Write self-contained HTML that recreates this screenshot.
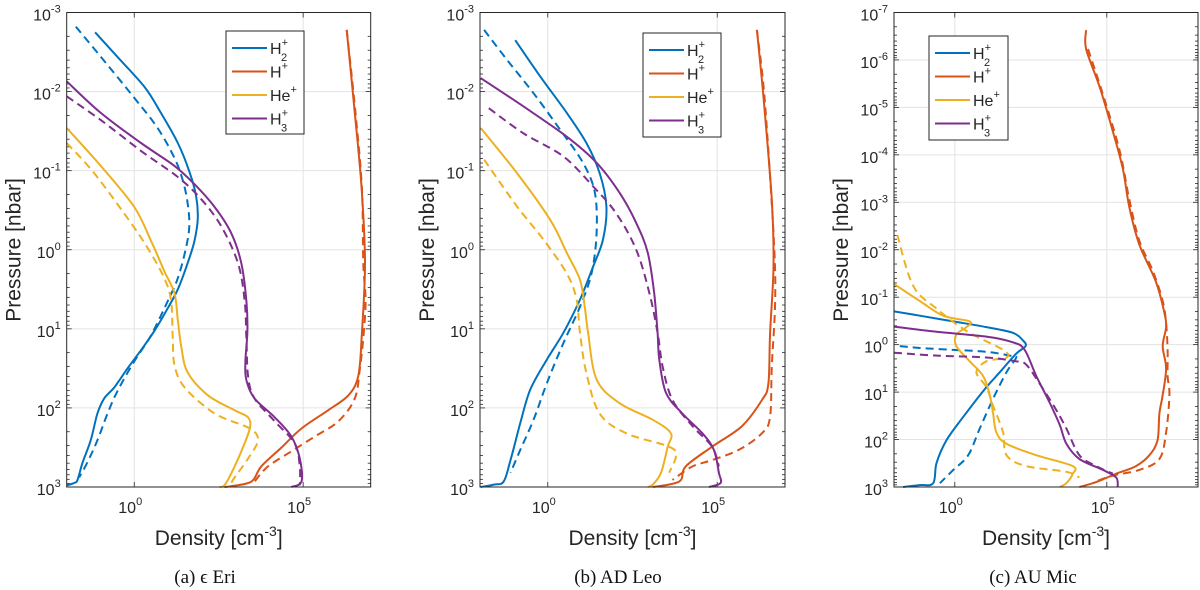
<!DOCTYPE html>
<html><head><meta charset="utf-8">
<style>
html,body{margin:0;padding:0;background:#fff;}
svg{display:block;font-family:"Liberation Sans",sans-serif;}
.cap{font-family:"Liberation Serif",serif;}
</style></head>
<body>
<svg id="fig" width="1200" height="590" viewBox="0 0 1200 590"></svg>
<script>
// Data: [log10(density), log10(pressure)]
const eriH2Solid=[[-1.16,-2.75],[-0.5,-2.44],[0.3,-2.06],[0.79,-1.73],[1.29,-1.35],[1.63,-0.99],[1.83,-0.68],[1.88,-0.4],[1.78,-0.11],[1.58,0.17],[1.29,0.5],[0.99,0.74],[0.59,1.03],[0.2,1.27],[-0.2,1.5],[-0.59,1.74],[-0.89,1.88],[-1.09,2.07],[-1.29,2.41],[-1.53,2.69],[-1.68,2.91],[-1.78,2.95],[-2,2.98]];
const eriH2Dash=[[-1.73,-2.82],[-0.99,-2.44],[0,-1.92],[0.69,-1.54],[1.19,-1.16],[1.44,-0.87],[1.58,-0.59],[1.63,-0.3],[1.53,-0.02],[1.29,0.36],[0.99,0.65],[0.5,1.08],[0,1.41],[-0.5,1.79],[-0.79,2.07],[-1.09,2.41],[-1.39,2.69],[-1.63,2.88]];
const eriH3Solid=[[-2,-2.13],[-0.99,-1.73],[0.2,-1.35],[1.19,-1.06],[1.78,-0.83],[2.38,-0.54],[2.87,-0.21],[3.17,0.17],[3.32,0.65],[3.35,1.03],[3.29,1.41],[3.32,1.65],[3.56,1.88],[4.16,2.12],[4.65,2.36],[4.9,2.64],[4.95,2.93],[4.65,3]];
const eriH3Dash=[[-2,-1.94],[-0.99,-1.64],[0.2,-1.25],[1.29,-0.92],[1.98,-0.64],[2.57,-0.3],[3.07,0.17],[3.27,0.65],[3.32,1.12],[3.37,1.6],[3.56,1.88],[4.16,2.17],[4.75,2.45],[4.9,2.74],[4.9,2.98]];
const eriHeSolid=[[-2,-1.54],[-0.99,-1.06],[0,-0.54],[0.5,-0.11],[0.89,0.27],[1.19,0.55],[1.29,0.89],[1.39,1.22],[1.58,1.55],[2.18,1.84],[2.97,2.03],[3.37,2.12],[3.42,2.26],[3.17,2.55],[2.87,2.83],[2.67,2.98],[2.52,3]];
const eriHeDash=[[-2,-1.35],[-1.19,-0.97],[-0.2,-0.4],[0.4,-0.02],[0.89,0.36],[1.09,0.65],[1.14,1.12],[1.19,1.46],[1.49,1.74],[2.38,2.07],[3.42,2.26],[3.66,2.41],[3.37,2.64],[2.97,2.88],[2.87,2.95]];
const eriHSolid=[[6.29,-2.78],[6.53,-1.73],[6.73,-0.78],[6.83,0.17],[6.73,1.12],[6.63,1.6],[6.34,1.84],[5.74,2.03],[4.95,2.26],[4.36,2.5],[3.76,2.74],[3.47,2.93],[2.87,2.99],[2.67,3]];
const eriHDash=[[6.29,-2.78],[6.55,-1.73],[6.74,-0.78],[6.78,0.17],[6.85,0.65],[6.78,1.12],[6.68,1.5],[6.53,1.88],[6.04,2.17],[5.35,2.36],[4.65,2.55],[3.96,2.74],[3.56,2.93]];

const leoH2Solid=[[-0.96,-2.65],[-0.22,-2.19],[0.56,-1.73],[1.14,-1.35],[1.53,-0.97],[1.73,-0.55],[1.63,-0.13],[1.34,0.21],[0.95,0.63],[0.46,1.05],[-0.03,1.39],[-0.52,1.77],[-0.81,2.19],[-1.1,2.66],[-1.3,2.93],[-1.59,2.97],[-1.98,3]];
const leoH2Dash=[[-1.88,-2.78],[-1.2,-2.4],[-0.42,-1.98],[0.36,-1.52],[1.04,-1.1],[1.39,-0.72],[1.44,-0.21],[1.29,0.3],[0.95,0.72],[0.46,1.18],[-0.03,1.69],[-0.42,2.15],[-0.81,2.53],[-1.1,2.82]];
const leoH3Solid=[[-1.98,-2.17],[-0.71,-1.81],[0.56,-1.43],[1.44,-1.1],[2.12,-0.72],[2.61,-0.34],[2.95,0.04],[3.14,0.55],[3.24,1.05],[3.29,1.39],[3.49,1.81],[3.97,2.07],[4.56,2.32],[4.9,2.53],[5.05,2.82],[5.1,2.95],[4.76,3]];
const leoH3Dash=[[-1.74,-1.79],[-0.71,-1.47],[0.46,-1.18],[1.34,-0.8],[2.02,-0.46],[2.61,0],[3,0.55],[3.24,1.05],[3.39,1.48],[3.68,1.9],[4.27,2.23],[4.85,2.49],[5.05,2.74]];
const leoHeSolid=[[-1.98,-1.54],[-0.91,-0.97],[0.07,-0.38],[0.56,0.04],[0.95,0.38],[1.09,0.72],[1.19,1.05],[1.44,1.64],[2.12,1.94],[3.1,2.15],[3.63,2.32],[3.54,2.49],[3.34,2.82],[3.1,2.97],[2.95,3]];
const leoHeDash=[[-1.88,-1.14],[-0.91,-0.55],[-0.13,-0.13],[0.56,0.3],[0.85,0.63],[0.95,1.05],[1.14,1.56],[1.53,2.07],[2.31,2.32],[3.58,2.49],[3.78,2.61],[3.58,2.82]];
const leoHSolid=[[6.17,-2.78],[6.37,-1.9],[6.61,-0.63],[6.66,0.21],[6.56,1.05],[6.51,1.69],[6.32,1.9],[5.73,2.23],[4.85,2.49],[4.07,2.74],[3.88,2.93],[3.1,3]];
const leoHDash=[[6.17,-2.78],[6.4,-1.9],[6.66,-0.21],[6.71,0.63],[6.61,1.48],[6.56,2.11],[6.32,2.32],[5.64,2.53],[4.85,2.66],[4.27,2.74],[3.68,2.91]];

const micH2Solid=[[-2,-0.7],[-1.15,-0.61],[-0.05,-0.49],[1.04,-0.37],[1.91,-0.25],[2.24,-0.09],[2.33,0.03],[2.02,0.19],[1.48,0.58],[0.93,0.98],[0.27,1.53],[-0.27,2.01],[-0.6,2.49],[-0.71,2.92],[-1.15,2.96],[-1.7,3]];
const micH2Dash=[[-1.81,0.03],[-1.15,0.07],[-0.05,0.11],[1.04,0.15],[1.81,0.23],[2.02,0.27],[1.7,0.58],[1.26,1.14],[0.82,1.77],[0.44,2.33],[-0.05,2.64],[-0.49,2.92]];
const micH3Solid=[[-2,-0.38],[-0.6,-0.27],[1.04,-0.17],[1.91,-0.05],[2.3,0.11],[2.68,0.66],[3.12,1.22],[3.45,1.69],[3.67,2.09],[4.1,2.41],[4.87,2.64],[5.31,2.8],[5.36,3]];
const micH3Dash=[[-2,0.17],[-0.6,0.23],[1.04,0.27],[2.02,0.35],[2.35,0.42],[2.79,0.82],[3.34,1.38],[3.67,1.77],[4.1,2.33],[4.65,2.56],[5.2,2.72]];
const micHeSolid=[[-2,-1.28],[-1.15,-0.92],[-0.38,-0.61],[0.49,-0.49],[0.38,-0.37],[0.05,-0.21],[0.05,0.03],[0.49,0.35],[0.93,0.66],[1.15,1.06],[1.26,1.45],[1.37,1.85],[1.7,2.09],[2.68,2.33],[3.88,2.56],[3.88,2.72],[3.67,2.92],[3.45,3]];
const micHeDash=[[-1.89,-2.31],[-1.37,-1.24],[-0.6,-0.76],[0.38,-0.29],[1.59,0.11],[1.7,0.27],[1.04,0.35],[0.71,0.58],[1.04,0.9],[1.26,1.29],[1.59,1.85],[1.7,2.33],[2.35,2.56],[3.67,2.68],[4.1,2.8]];
const micHSolid=[[4.32,-6.63],[4.32,-6.23],[4.76,-5.44],[5.2,-4.49],[5.53,-3.7],[5.74,-2.9],[6.07,-2.11],[6.62,-1.32],[6.89,-0.68],[6.95,-0.37],[6.84,0.03],[6.95,0.5],[6.84,1.06],[6.73,1.45],[6.67,2.01],[6.4,2.33],[5.96,2.56],[5.31,2.72],[4.87,2.84],[4.54,2.92],[4.1,3]];
const micHDash=[[4.38,-6.23],[4.87,-5.28],[5.42,-4.09],[5.74,-3.06],[6.07,-2.19],[6.51,-1.56],[6.84,-0.92],[6.95,-0.45],[7,0.11],[7,0.66],[7.06,1.06],[6.95,1.85],[6.73,2.41],[6.07,2.64],[5.2,2.76],[4.65,2.88]];

const xTickExps=[0,5];
const legendLabels=[["H","+","2"],["H","+",""],["He","+",""],["H","+","3"]];
const captions=["(a) \u03f5 Eri","(b) AD Leo","(c) AU Mic"];

const NS="http://www.w3.org/2000/svg";
const svg=document.getElementById('fig');
const C={h2:"#0072BD",h:"#D95319",he:"#EDB120",h3:"#7E2F8E"};
function mk(tag,attrs,parent){const e=document.createElementNS(NS,tag);for(const k in attrs)e.setAttribute(k,attrs[k]);(parent||svg).appendChild(e);return e;}
function smooth(pts){
 let d="M"+pts[0][0].toFixed(1)+","+pts[0][1].toFixed(1);
 const t=0.5/3;
 for(let i=0;i<pts.length-1;i++){
  const p0=pts[Math.max(0,i-1)],p1=pts[i],p2=pts[i+1],p3=pts[Math.min(pts.length-1,i+2)];
  const c1=[p1[0]+(p2[0]-p0[0])*t,p1[1]+(p2[1]-p0[1])*t];
  const c2=[p2[0]-(p3[0]-p1[0])*t,p2[1]-(p3[1]-p1[1])*t];
  d+=" C"+c1[0].toFixed(1)+","+c1[1].toFixed(1)+" "+c2[0].toFixed(1)+","+c2[1].toFixed(1)+" "+p2[0].toFixed(1)+","+p2[1].toFixed(1);
 }
 return d;
}

const panels=[
 {name:"eps-eri",L:66.7,R:370.7,T:12.5,B:487,xmin:-2,xmax:7,ymin:-3,ymax:3,leg:[226,31,78,103],cap:205,
  series:[[eriH2Solid,"h2",0],[eriH2Dash,"h2",1],[eriHSolid,"h",0],[eriHDash,"h",1],[eriHeSolid,"he",0],[eriHeDash,"he",1],[eriH3Solid,"h3",0],[eriH3Dash,"h3",1]]},
 {name:"ad-leo",L:480,R:785,T:12.5,B:487,xmin:-2,xmax:7,ymin:-3,ymax:3,leg:[643,33,78,104],cap:618,
  series:[[leoH2Solid,"h2",0],[leoH2Dash,"h2",1],[leoHSolid,"h",0],[leoHDash,"h",1],[leoHeSolid,"he",0],[leoHeDash,"he",1],[leoH3Solid,"h3",0],[leoH3Dash,"h3",1]]},
 {name:"au-mic",L:894,R:1198,T:12.5,B:487,xmin:-2,xmax:8,ymin:-7,ymax:3,leg:[929,36,79,104],cap:1033,
  series:[[micH2Solid,"h2",0],[micH2Dash,"h2",1],[micHSolid,"h",0],[micHDash,"h",1],[micHeSolid,"he",0],[micHeDash,"he",1],[micH3Solid,"h3",0],[micH3Dash,"h3",1]]}
];

panels.forEach((P,pi)=>{
 const g=mk('g',{});
 
 
 const sx=v=>P.L+(v-P.xmin)/(P.xmax-P.xmin)*(P.R-P.L);
 const sy=v=>P.T+(v-P.ymin)/(P.ymax-P.ymin)*(P.B-P.T);
 for(let e=P.ymin+1;e<P.ymax;e++){
  const y=sy(e);
  const gl=mk('line',{x1:P.L,x2:P.R,y1:y,y2:y,stroke:"#e3e3e3","stroke-width":1},g);
  
 }
 xTickExps.forEach(e=>{const x=sx(e);const gl=mk('line',{x1:x,x2:x,y1:P.T,y2:P.B,stroke:"#e3e3e3","stroke-width":1},g);
  });
 const tk=mk('g',{stroke:"#262626","stroke-width":0.8},g);
 
 for(let e=P.ymin;e<P.ymax;e++){
  for(let m=1;m<10;m++){
   const y=sy(e+Math.log10(m));const len=m===1?5:3;
   mk('line',{x1:P.L,x2:P.L+len,y1:y,y2:y},tk);
   mk('line',{x1:P.R,x2:P.R-len,y1:y,y2:y},tk);
  }
 }
 xTickExps.forEach(e=>{const x=sx(e);mk('line',{x1:x,x2:x,y1:P.B,y2:P.B-5},tk);mk('line',{x1:x,x2:x,y1:P.T,y2:P.T+5},tk);});
 P.series.forEach(([d,k,dash])=>{
  const pts=d.map(p=>[sx(p[0]),sy(p[1])]);
  const pl=mk('path',{d:smooth(pts),fill:"none",stroke:C[k],"stroke-width":2,"stroke-linejoin":"round"},g);
  if(dash)pl.setAttribute('stroke-dasharray','8 5');
  
  
 });
 const bx=mk('rect',{x:P.L,y:P.T,width:P.R-P.L,height:P.B-P.T,fill:"none",stroke:"#262626","stroke-width":1},g);
 
 for(let e=P.ymin;e<=P.ymax;e++){
  const t=mk('text',{x:P.L-6,y:sy(e)+8,"text-anchor":"end","font-size":16,fill:"#262626"},g);
  
  t.textContent="10";
  const s=mk('tspan',{dy:-8,"font-size":11},t);s.textContent=String(e);
 }
 xTickExps.forEach(e=>{
  const t=mk('text',{x:sx(e)-4,y:513,"text-anchor":"middle","font-size":16,fill:"#262626"},g);
  
  t.textContent="10";const s=mk('tspan',{dy:-8,"font-size":11},t);s.textContent=String(e);
 });
 const yt=mk('text',{transform:`translate(${P.L-46},250) rotate(-90)`,"text-anchor":"middle","font-size":21,fill:"#262626"},g);
 
 yt.textContent="Pressure [nbar]";
 const xt=mk('text',{x:(P.L+P.R)/2,y:545,"text-anchor":"middle","font-size":21,fill:"#262626"},g);
 
 xt.textContent="Density [cm";const xs=mk('tspan',{dy:-9,"font-size":14},xt);xs.textContent="-3";const xe=mk('tspan',{dy:9},xt);xe.textContent="]";
 const [lx,ly,lw,lh]=P.leg;
 const lg=mk('g',{},g);
 
 mk('rect',{x:lx,y:ly,width:lw,height:lh,fill:"#fff",stroke:"#262626","stroke-width":1},lg);
 const keys=["h2","h","he","h3"];
 keys.forEach((k,i)=>{
  const y=ly+17+i*23.5;
  const en=mk('g',{},lg);
  
  mk('line',{x1:lx+6,x2:lx+41,y1:y,y2:y,stroke:C[k],"stroke-width":2},en);
  const t=mk('text',{x:lx+44,y:y+6,"font-size":16,fill:"#262626"},en);
  const [b,sup,sub]=legendLabels[i];
  t.textContent=b;
  if(sub){const a=mk('tspan',{"font-size":11,dy:-8},t);a.textContent=sup;const c=mk('tspan',{"font-size":11,dx:-7,dy:15},t);c.textContent=sub;}
  else{const a=mk('tspan',{"font-size":11,dy:-8},t);a.textContent=sup;}
 });
 const cp=mk('text',{x:P.cap,y:583,"text-anchor":"middle","font-size":19,fill:"#111",class:"cap"},g);
 
 cp.textContent=captions[pi];
});
</script>
</body></html>
